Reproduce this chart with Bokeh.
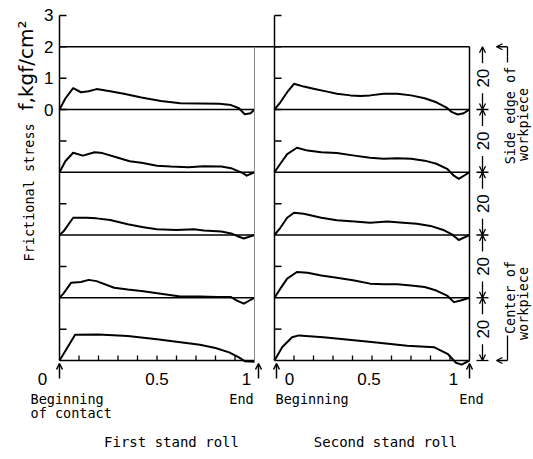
import numpy as np
from bokeh.plotting import figure
from bokeh.models import Range1d, Arrow, OpenHead
from bokeh.core.properties import value
from bokeh.embed import file_html
from bokeh.resources import INLINE

# ---------------- data (frictional stress f, kgf/cm^2, vs. relative contact position) ----
# First stand roll: five strips, side edge (top) to center (bottom) of workpiece
first_x_1 = [0, 0.03, 0.07, 0.11, 0.15, 0.19, 0.26, 0.33, 0.42, 0.52, 0.62, 0.72, 0.82, 0.88, 0.92, 0.95, 0.98, 1.0]
first_f_1 = [0, 0.35, 0.68, 0.55, 0.58, 0.65, 0.58, 0.50, 0.38, 0.27, 0.20, 0.19, 0.18, 0.14, 0.04, -0.15, -0.12, 0]
first_x_2 = [0, 0.03, 0.07, 0.12, 0.18, 0.22, 0.30, 0.36, 0.42, 0.50, 0.57, 0.66, 0.74, 0.83, 0.88, 0.91, 0.94, 0.96, 1.0]
first_f_2 = [0, 0.35, 0.62, 0.53, 0.64, 0.61, 0.46, 0.35, 0.30, 0.21, 0.18, 0.16, 0.19, 0.18, 0.13, 0.05, -0.03, -0.11, 0]
first_x_3 = [0, 0.02, 0.07, 0.14, 0.19, 0.26, 0.35, 0.43, 0.50, 0.60, 0.69, 0.74, 0.83, 0.88, 0.91, 0.945, 1.0]
first_f_3 = [0, 0.11, 0.55, 0.55, 0.53, 0.48, 0.34, 0.25, 0.18, 0.16, 0.18, 0.14, 0.11, 0.05, -0.03, -0.11, 0]
first_x_4 = [0, 0.02, 0.06, 0.11, 0.15, 0.19, 0.28, 0.35, 0.43, 0.52, 0.62, 0.72, 0.81, 0.88, 0.91, 0.945, 1.0]
first_f_4 = [0, 0.13, 0.48, 0.50, 0.57, 0.53, 0.32, 0.26, 0.21, 0.13, 0.04, 0.04, 0.02, 0.02, -0.09, -0.19, 0]
first_x_5 = [0, 0.03, 0.08, 0.20, 0.35, 0.50, 0.62, 0.72, 0.80, 0.87, 0.92, 0.95, 1.0]
first_f_5 = [0, 0.30, 0.82, 0.83, 0.78, 0.68, 0.58, 0.50, 0.40, 0.26, 0.10, -0.02, -0.04]

# Second stand roll
second_x_1 = [0, 0.03, 0.065, 0.10, 0.15, 0.20, 0.27, 0.32, 0.39, 0.44, 0.49, 0.56, 0.63, 0.70, 0.77, 0.83, 0.885, 0.91, 0.94, 0.97, 1.0]
second_f_1 = [0, 0.23, 0.55, 0.82, 0.73, 0.66, 0.57, 0.50, 0.45, 0.43, 0.45, 0.50, 0.50, 0.45, 0.36, 0.23, 0.05, -0.085, -0.16, -0.12, 0]
second_x_2 = [0, 0.03, 0.065, 0.115, 0.17, 0.24, 0.32, 0.41, 0.49, 0.56, 0.63, 0.70, 0.77, 0.83, 0.885, 0.92, 0.945, 1.0]
second_f_2 = [0, 0.27, 0.58, 0.78, 0.69, 0.64, 0.61, 0.53, 0.46, 0.43, 0.45, 0.43, 0.37, 0.27, 0.11, -0.11, -0.21, 0]
second_x_3 = [0, 0.03, 0.065, 0.10, 0.15, 0.24, 0.32, 0.41, 0.49, 0.58, 0.66, 0.73, 0.80, 0.87, 0.91, 0.945, 1.0]
second_f_3 = [0, 0.23, 0.55, 0.71, 0.68, 0.55, 0.47, 0.43, 0.39, 0.43, 0.39, 0.36, 0.29, 0.15, 0.02, -0.16, 0]
second_x_4 = [0, 0.03, 0.065, 0.115, 0.17, 0.24, 0.32, 0.41, 0.49, 0.56, 0.63, 0.70, 0.77, 0.83, 0.885, 0.92, 0.955, 1.0]
second_f_4 = [0, 0.29, 0.61, 0.82, 0.80, 0.71, 0.64, 0.55, 0.45, 0.43, 0.43, 0.39, 0.34, 0.23, 0.07, -0.14, -0.09, 0]
second_x_5 = [0, 0.04, 0.09, 0.125, 0.25, 0.33, 0.51, 0.68, 0.82, 0.89, 0.93, 0.96, 1.0]
second_f_5 = [0, 0.43, 0.74, 0.80, 0.74, 0.69, 0.58, 0.47, 0.42, 0.20, -0.07, -0.13, 0]

x_tick_values = [0, 0.5, 1]
x_tick_labels = ["0", "0.5", "1"]
x_minor_ticks = [0.1, 0.2, 0.3, 0.4, 0.5, 0.6, 0.7, 0.8, 0.9]
y_tick_values = [0, 1, 2, 3]
y_tick_labels = ["0", "1", "2", "3"]
y_minor_ticks = [-1, -3, -5, -7]
strip_width_labels = ["20", "20", "20", "20", "20"]
strip_step = 2          # each strip is 2 kgf/cm^2 tall on the shared stress axis

first_x = [first_x_1, first_x_2, first_x_3, first_x_4, first_x_5]
first_f = [first_f_1, first_f_2, first_f_3, first_f_4, first_f_5]
second_x = [second_x_1, second_x_2, second_x_3, second_x_4, second_x_5]
second_f = [second_f_1, second_f_2, second_f_3, second_f_4, second_f_5]

# ---------------- layout (pixel geometry of the canvas) ----------------
W, H = 533, 459
PX = 195.0           # px per unit of contact length
PY = 31.375          # px per kgf/cm^2
L0 = 59              # px of x=0, first panel
R0 = 274             # px of x=0, second panel
Z0 = 109             # px of f=0 of the first strip
BOTTOM = -strip_step * 4   # -8


def X(px):   # first-panel coordinate of a pixel column
    return (px - L0) / PX


def XR(px):  # second-panel coordinate of a pixel column
    return (px - R0) / PX


def Y(py):
    return (Z0 - py) / PY


MONO = value("DejaVu Sans Mono")
SANS = value("Liberation Sans")

p = figure(width=W, height=H, x_range=Range1d(X(0), X(W)), y_range=Range1d(Y(H), Y(0)),
           output_backend="svg", toolbar_location=None,
           x_axis_location=None, y_axis_location=None,
           min_border_left=0, min_border_right=0, min_border_top=0, min_border_bottom=0)
p.extra_x_ranges = {"right": Range1d(XR(0), XR(W))}
p.grid.visible = False
p.outline_line_color = None
p.background_fill_color = "white"
p.border_fill_color = "white"

levels = sorted(set([-strip_step * k for k in range(5)] + [BOTTOM]), reverse=True)


def panel(xs_list, fs_list, rname, label_offsets):
    kw = {} if rname is None else {"x_range_name": rname}
    for k, (xs, fs) in enumerate(zip(xs_list, fs_list)):
        base = -strip_step * k
        p.line(xs, [f + base for f in fs], line_width=2, color="black",
               line_join="round", **kw)
    n = len(levels)
    p.segment(x0=[0] * n, y0=levels, x1=[1] * n, y1=levels,
              line_width=1.5, color="black", **kw)
    # stress axis of the panel, with inward ticks
    p.segment(x0=[0], y0=[BOTTOM], x1=[0], y1=[3], line_width=1.5, color="black", **kw)
    yt = y_tick_values + y_minor_ticks
    p.segment(x0=[0] * len(yt), y0=yt, x1=[7 / PX] * len(yt), y1=yt,
              line_width=1.5, color="black", **kw)
    # contact-length ticks (inward)
    m = len(x_minor_ticks)
    p.segment(x0=x_minor_ticks, y0=[BOTTOM] * m, x1=x_minor_ticks,
              y1=[BOTTOM + 5 / PY] * m, line_width=1.3, color="black", **kw)
    for xv, lab, off in zip(x_tick_values, x_tick_labels, label_offsets):
        p.text(x=[xv], y=[BOTTOM - 18 / PY], text=[lab], x_offset=off,
               text_font=SANS, text_font_size="17px", text_align="center",
               text_baseline="middle", text_color="black", **kw)


panel(first_x, first_f, None, [-17, 0, -8])
panel(second_x, second_f, "right", [15, -3, -16])

# stress tick labels (first panel only)
p.text(x=[0] * len(y_tick_values), y=y_tick_values, text=y_tick_labels, x_offset=-6,
       text_font=SANS, text_font_size="17px", text_align="right",
       text_baseline="middle", text_color="black")

# top line across both panels
p.segment(x0=[0], y0=[2], x1=[X(R0) + 1], y1=[2], line_width=1.5, color="black")
# first panel right edge (faint)
p.segment(x0=[1], y0=[BOTTOM], x1=[1], y1=[2], line_width=1, color="#888888")
# second panel right edge
p.segment(x0=[1], y0=[BOTTOM], x1=[1], y1=[2], line_width=1.5, color="black", x_range_name="right")

# beginning / end arrows
for xv, rn in [(0, None), (X(258), None), (XR(276), "right"), (1.0, "right")]:
    kw = {} if rn is None else {"x_range_name": rn}
    p.add_layout(Arrow(end=OpenHead(size=6, line_width=1.5), x_start=xv,
                       y_start=Y(378), x_end=xv, y_end=Y(363),
                       line_width=1.5, **kw))


def mono(x, y, t, align="left", rn=None, size="13.5px", angle=0, font=MONO):
    kw = {} if rn is None else {"x_range_name": rn}
    p.text(x=[x], y=[y], text=[t], text_font=font, text_font_size=size,
           text_align=align, text_baseline="middle", text_color="black",
           angle=angle, **kw)


mono(X(30), Y(398), "Beginning")
mono(X(30), Y(412), "of contact")
mono(X(241), Y(398), "End", "center")
mono(XR(275), Y(398), "Beginning", rn="right")
mono(XR(471), Y(398), "End", "center", rn="right")
mono(X(171), Y(441), "First stand roll", "center", size="14px")
mono(XR(385), Y(441), "Second stand roll", "center", rn="right", size="14px")

# y-axis title
mono(X(28), Y(261), "Frictional stress", "left", angle=np.pi / 2)
mono(X(25), Y(110), "f,kgf/cm\u00b2", "left", angle=np.pi / 2,
     size="20px", font=value("DejaVu Sans"))

# dimension chain on the right (strip widths, 20 each)
XD = XR(482)
for i, lab in enumerate(strip_width_labels):
    top = 2 - strip_step * i
    bot = top - strip_step
    mid = (top + bot) / 2
    p.text(x=[XD], y=[mid], text=[lab], angle=np.pi / 2, text_font=SANS,
           text_font_size="17px", text_align="center", text_baseline="middle",
           text_color="black", x_range_name="right")
    for end_y, start_y in [(top, mid + 15 / PY), (bot, mid - 15 / PY)]:
        p.add_layout(Arrow(end=OpenHead(size=6, line_width=1.3), x_start=XD,
                           y_start=start_y, x_end=XD, y_end=end_y,
                           line_width=1.3, x_range_name="right"))
cross = [0, -2, -4, -6, -8]
p.segment(x0=[XR(476)] * 5, y0=cross, x1=[XR(488)] * 5, y1=cross,
          line_width=1.3, color="black", x_range_name="right")

# side / center brackets
BX, BX2 = XR(507), XR(496)
p.line([BX, BX], [Y(62), 2], line_width=1.3, color="black", x_range_name="right")
p.add_layout(Arrow(end=OpenHead(size=6, line_width=1.3), x_start=BX, y_start=2,
                   x_end=BX2, y_end=2, line_width=1.3, x_range_name="right"))
p.line([BX, BX], [Y(335), BOTTOM], line_width=1.3, color="black", x_range_name="right")
p.add_layout(Arrow(end=OpenHead(size=6, line_width=1.3), x_start=BX, y_start=BOTTOM,
                   x_end=BX2, y_end=BOTTOM, line_width=1.3, x_range_name="right"))

mono(XR(509), Y(115), "Side edge of", "center", rn="right", angle=np.pi / 2)
mono(XR(522), Y(124), "workpiece", "center", rn="right", angle=np.pi / 2)
mono(XR(509), Y(297), "Center of", "center", rn="right", angle=np.pi / 2)
mono(XR(522), Y(303), "workpiece", "center", rn="right", angle=np.pi / 2)

open("out.html", "w").write(file_html(p, INLINE))
